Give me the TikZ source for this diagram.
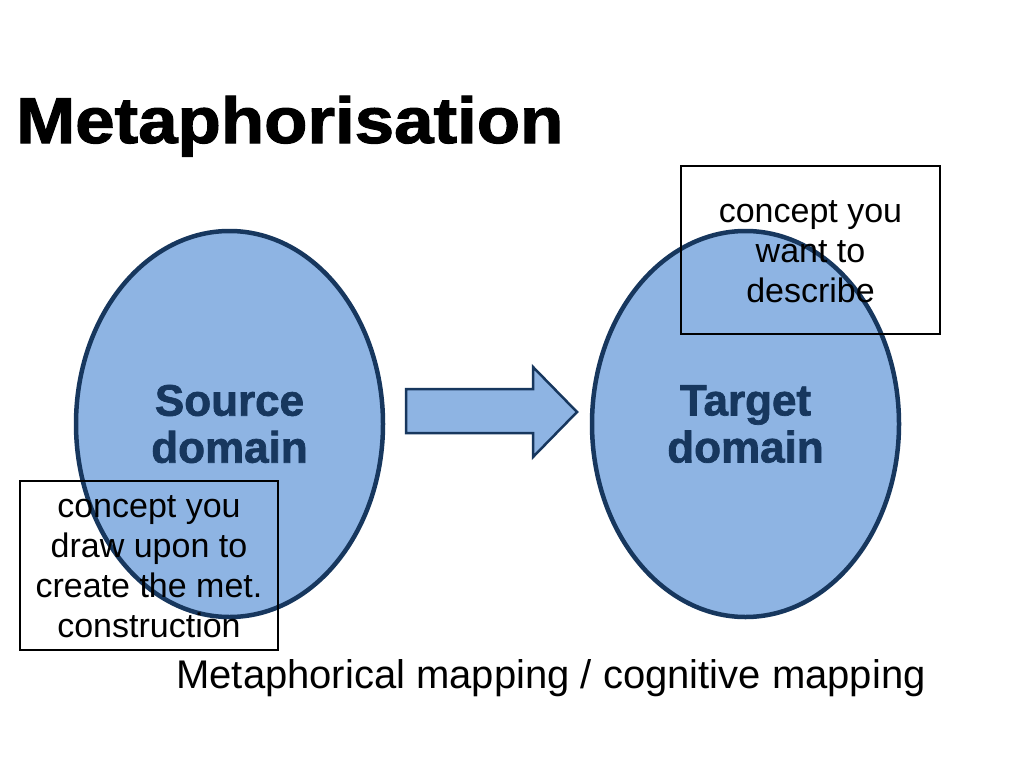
\documentclass[tikz,border=0pt]{standalone}
\usepackage{fontspec}
\setmainfont{Liberation Sans}
\newfontfamily\heavyfont[FakeBold=1.6]{Liberation Sans Bold}
\usetikzlibrary{shapes.geometric}
\definecolor{dfill}{RGB}{142,180,227}
\definecolor{dline}{RGB}{23,55,94}
\tikzset{
  domainoval/.style={ellipse, draw=dline, fill=dfill, line width=4.5pt, inner sep=0pt,
    minimum width=307pt, minimum height=386pt, text=dline, align=center,
    font=\fontsize{44}{47}\heavyfont},
  notebox/.style={rectangle, draw=black, line width=2pt, inner sep=0pt},
  notetext/.style={align=center, font=\fontsize{34}{40}\selectfont, inner sep=0pt, anchor=base},
  blockarrow/.style={draw=dline, fill=dfill, line width=2.5pt, line join=miter},
}
\begin{document}
\begin{tikzpicture}[x=1pt,y=-1pt]
\useasboundingbox[fill=white] (0,0) rectangle (1024,768);
\node[anchor=base west, inner sep=0pt, font=\fontsize{65}{70}\heavyfont] (title) at (16,143) {\scalebox{1.09}[1]{Metaphorisation}};
\node[domainoval] (src) at (229.5,424) {Source\\domain};
\node[domainoval] (tgt) at (745.5,424) {Target\\domain};
\draw[blockarrow] (406,389) -- (533,389) -- (533,367) -- (577,412) -- (533,457) -- (533,433) -- (406,433) -- cycle;
\node[notebox, minimum width=259pt, minimum height=168pt] (tbox) at (810.5,250) {};
\node[notetext] (ttext) at (810.5,302) {concept you\\want to\\describe};
\node[notebox, minimum width=258pt, minimum height=169pt] (sbox) at (149,565.5) {};
\node[notetext] (stext) at (149,637) {concept you\\draw upon to\\create the met.\\construction};
\node[anchor=base, inner sep=0pt, font=\fontsize{40}{44}\selectfont] (caption) at (551,688) {Metaphorical mapping / cognitive mapping};
\end{tikzpicture}
\end{document}
